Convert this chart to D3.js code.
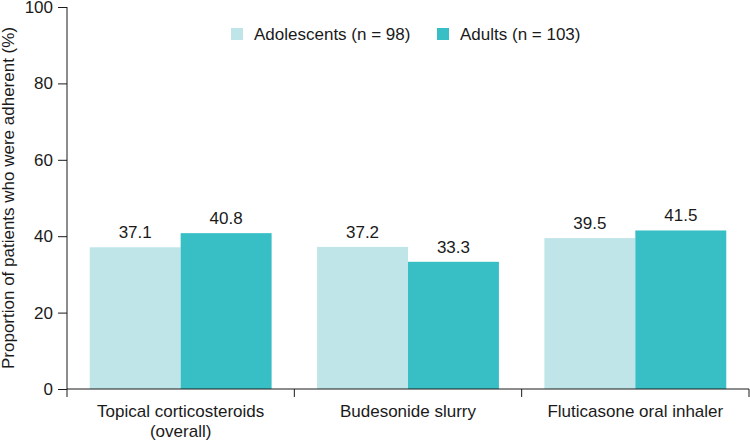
<!DOCTYPE html>
<html>
<head>
<meta charset="utf-8">
<script src="https://cdn.jsdelivr.net/npm/d3@7"></script>
<style>
  body { margin: 0; background: #fff; }
  text { font-family: "Liberation Sans", Arial, sans-serif; fill: #1a1a1a; }
</style>
</head>
<body>
<div id="chart"></div>
<script>
// chart data
var categories = ["Topical corticosteroids\n(overall)", "Budesonide slurry", "Fluticasone oral inhaler"];
var seriesNames = ["Adolescents (n = 98)", "Adults (n = 103)"];
var adolescents = [37.1, 37.2, 39.5];
var adults = [40.8, 33.3, 41.5];
var yTicks = [0, 20, 40, 60, 80, 100];
var colors = ["#bfe5e8", "#38bfc6"];

var svgWidth = 750;
var svgHeight = 441;
var margin = { top: 7, right: 1, bottom: 52, left: 67 };
var width = svgWidth - margin.left - margin.right;
var height = svgHeight - margin.top - margin.bottom;
var fs = "17px";

var svg = d3.select("#chart")
  .append("svg")
  .attr("width", svgWidth)
  .attr("height", svgHeight);

var chartGroup = svg.append("g")
  .attr("transform", `translate(${margin.left}, ${margin.top})`);

var x0 = d3.scaleBand()
  .domain(categories)
  .range([0, width])
  .paddingInner(0.2)
  .paddingOuter(0.1);

var bandStep = width / categories.length;

var x1 = d3.scaleBand()
  .domain(seriesNames)
  .range([0, x0.bandwidth()])
  .padding(0);

var y = d3.scaleLinear()
  .domain([0, 100])
  .range([height, 0]);

// build rows from the arrays
var rows = categories.map(function(c, i) {
  return { cat: c, values: [adolescents[i], adults[i]] };
});

// bars
var groups = chartGroup.selectAll(".grp")
  .data(rows)
  .enter()
  .append("g")
  .attr("class", "grp")
  .attr("transform", d => `translate(${x0(d.cat)}, 0)`);

groups.selectAll("rect")
  .data(d => d.values.map((v, j) => ({ key: seriesNames[j], v: v, j: j })))
  .enter()
  .append("rect")
  .attr("x", d => x1(d.key))
  .attr("y", d => y(d.v))
  .attr("width", x1.bandwidth())
  .attr("height", d => height - y(d.v))
  .attr("fill", d => colors[d.j]);

groups.selectAll(".val")
  .data(d => d.values.map((v, j) => ({ key: seriesNames[j], v: v, j: j })))
  .enter()
  .append("text")
  .attr("class", "val")
  .attr("x", d => x1(d.key) + x1.bandwidth() / 2)
  .attr("y", d => y(d.v) - 9)
  .attr("text-anchor", "middle")
  .attr("font-size", fs)
  .text(d => d.v.toFixed(1));

// y axis
var leftAxis = d3.axisLeft(y)
  .tickValues(yTicks)
  .tickSize(9)
  .tickPadding(5);

var yAxis = chartGroup.append("g")
  .call(leftAxis);
yAxis.select(".domain").remove();
yAxis.append("line")
  .attr("x1", 0).attr("x2", 0)
  .attr("y1", 0).attr("y2", height + 8)
  .attr("stroke", "#1a1a1a");
yAxis.selectAll("text")
  .attr("font-size", fs)
  .style("font-family", "'Liberation Sans', Arial, sans-serif")
  .attr("fill", "#1a1a1a");
yAxis.selectAll(".tick line").attr("stroke", "#1a1a1a");

// x axis: baseline plus boundary ticks between groups
var xAxis = chartGroup.append("g")
  .attr("transform", `translate(0, ${height})`);
xAxis.append("line")
  .attr("x1", 0).attr("x2", width)
  .attr("stroke", "#1a1a1a");
xAxis.selectAll(".bound")
  .data(categories)
  .enter()
  .append("line")
  .attr("class", "bound")
  .attr("x1", (d, i) => (i + 1) * bandStep)
  .attr("x2", (d, i) => (i + 1) * bandStep)
  .attr("y1", 0).attr("y2", 8)
  .attr("stroke", "#1a1a1a");

var catLabels = xAxis.selectAll(".cat")
  .data(categories)
  .enter()
  .append("text")
  .attr("class", "cat")
  .attr("text-anchor", "middle")
  .attr("font-size", fs)
  .attr("x", d => x0(d) + x0.bandwidth() / 2)
  .attr("y", 28);

catLabels.each(function(d) {
  var t = d3.select(this);
  d.split("\n").forEach(function(line, k) {
    t.append("tspan")
      .attr("x", x0(d) + x0.bandwidth() / 2)
      .attr("dy", k === 0 ? 0 : 20)
      .text(line);
  });
});

// y axis title
svg.append("text")
  .attr("transform", "rotate(-90)")
  .attr("x", -(margin.top + height / 2))
  .attr("y", 14)
  .attr("text-anchor", "middle")
  .attr("font-size", fs)
  .text("Proportion of patients who were adherent (%)");

// legend
var legendX = [231, 437];
var legend = svg.selectAll(".legend")
  .data(seriesNames)
  .enter()
  .append("g")
  .attr("class", "legend")
  .attr("transform", (d, i) => `translate(${legendX[i]}, 28)`);

legend.append("rect")
  .attr("width", 12)
  .attr("height", 12)
  .attr("fill", (d, i) => colors[i]);

legend.append("text")
  .attr("x", 23)
  .attr("y", 12)
  .attr("font-size", fs)
  .text(d => d);
</script>
</body>
</html>
